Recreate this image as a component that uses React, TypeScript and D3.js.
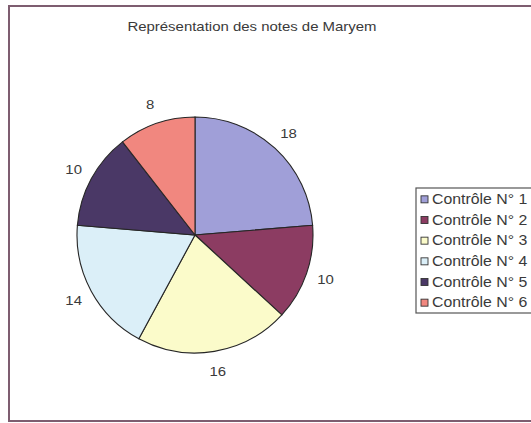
import React from "react";
import * as d3 from "d3";

const title = "Représentation des notes de Maryem";
const categories = ["Contrôle N° 1", "Contrôle N° 2", "Contrôle N° 3", "Contrôle N° 4", "Contrôle N° 5", "Contrôle N° 6"];
const values = [18, 10, 16, 14, 10, 8];
const colors = ["#a09fd8", "#8c3c62", "#fbfbca", "#dbeff8", "#4a3866", "#f1877f"];

const SX = 1.15;

function T({ x, y, anchor = "start", size = 13, children }: { x: number; y: number; anchor?: string; size?: number; children: React.ReactNode }) {
  return (
    <text transform={`translate(${x},${y}) scale(${SX},1)`} textAnchor={anchor as any} dominantBaseline="central" fontSize={size} fill="#3a3a3a">
      {children}
    </text>
  );
}

export default function App() {
  const W = 531, H = 423;
  const cx = 195, cy = 235, r = 118;
  const pie = d3.pie<number>().sort(null).value((d) => d)(values);
  const arc = d3.arc<d3.PieArcDatum<number>>().innerRadius(0).outerRadius(r);
  const labelArc = d3.arc<d3.PieArcDatum<number>>().innerRadius(r + 20).outerRadius(r + 20);
  const legendY = d3.scaleBand<number>().domain(d3.range(categories.length)).range([189, 313]);
  return (
    <svg width={W} height={H} style={{ position: "absolute", left: 0, top: 0, background: "#fff" }} fontFamily="Liberation Sans, Arial, sans-serif">
      <rect x={9} y={6} width={W} height={415} fill="#fff" stroke="#7e5d70" strokeWidth={2} />
      <T x={252} y={26} anchor="middle">{title}</T>
      <g transform={`translate(${cx},${cy})`}>
        {pie.map((p, i) => (
          <path key={i} d={arc(p) || ""} fill={colors[i]} stroke="#262626" strokeWidth={1.1} />
        ))}
        {pie.map((p, i) => {
          const [x, y] = labelArc.centroid(p);
          return (
            <T key={i} x={x} y={y} anchor="middle">{values[i]}</T>
          );
        })}
      </g>
      <rect x={416} y={188} width={130} height={125} fill="#fff" stroke="#555" strokeWidth={1.2} />
      {categories.map((c, i) => {
        const y = (legendY(i) as number) + legendY.bandwidth() / 2;
        return (
          <g key={i}>
            <rect x={421} y={y - 3.5} width={7} height={7} fill={colors[i]} stroke="#333" strokeWidth={0.9} />
            <T x={432} y={y} size={13.8}>{c}</T>
          </g>
        );
      })}
    </svg>
  );
}
